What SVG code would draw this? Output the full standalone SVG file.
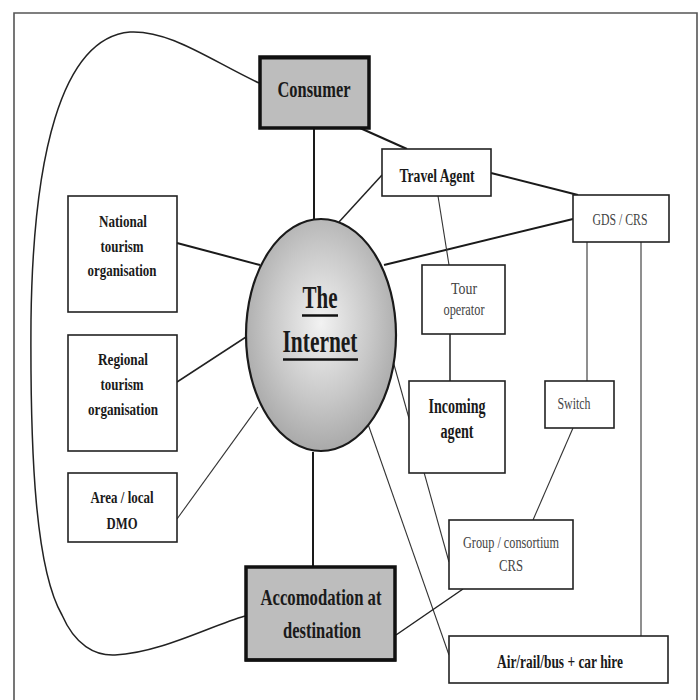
<svg xmlns="http://www.w3.org/2000/svg" width="700" height="700" viewBox="0 0 700 700">
<defs>
<radialGradient id="g" cx="0.5" cy="0.45" r="0.55">
<stop offset="0" stop-color="#f2f2f2"/>
<stop offset="0.6" stop-color="#c8c8c8"/>
<stop offset="1" stop-color="#a9a9a9"/>
</radialGradient>
<style>
.box{fill:#fff;stroke:#222;stroke-width:1.6}
.hbox{fill:#bdbdbd;stroke:#111;stroke-width:3.5}
.t{font-family:"Liberation Serif","Times New Roman",serif;font-weight:bold;fill:#1a1a1a;text-anchor:middle}
.r{font-family:"Liberation Serif","Times New Roman",serif;font-weight:normal;fill:#444;text-anchor:middle}
.thk{stroke:#1a1a1a;stroke-width:2;fill:none}
.med{stroke:#222;stroke-width:1.5;fill:none}
.thn{stroke:#333;stroke-width:1.1;fill:none}
</style>
</defs>
<rect width="700" height="700" fill="#fff"/>
<path d="M14,710 V13 H697 V710" fill="none" stroke="#555" stroke-width="1.6"/>
<g id="connectors">
<path class="med" d="M259,83 C210,60 170,30 130,32 C60,38 33,160 31,320 C30,460 36,570 62,615 C75,645 95,656 115,655 C160,653 210,626 245,616"/>
<line class="thk" x1="314" y1="128" x2="314" y2="219"/>
<line class="thk" x1="360" y1="128" x2="407" y2="149"/>
<line class="med" x1="382" y1="175" x2="339" y2="222"/>
<line class="thk" x1="491" y1="173" x2="578" y2="195"/>
<line class="thk" x1="384" y1="265" x2="573" y2="219"/>
<line class="thn" x1="438" y1="196" x2="449" y2="265"/>
<line class="med" x1="450" y1="334" x2="450" y2="381"/>
<line class="thn" x1="587" y1="242" x2="587" y2="381"/>
<line class="thn" x1="641" y1="242" x2="641" y2="636"/>
<line class="thn" x1="573" y1="428" x2="533" y2="520"/>
<line class="thk" x1="177" y1="243" x2="260" y2="265"/>
<line class="med" x1="177" y1="382" x2="246" y2="337"/>
<line class="thn" x1="177" y1="519" x2="258" y2="407"/>
<line class="thk" x1="313" y1="452" x2="313" y2="566"/>
<line class="thn" x1="393" y1="361" x2="449" y2="562"/>
<line class="thn" x1="368" y1="424" x2="449" y2="655"/>
<line class="med" x1="463" y1="589" x2="396" y2="635"/>
</g>
<g id="consumer">
<rect class="hbox" x="260" y="57" width="109" height="71"/>
<line x1="259" y1="58" x2="370" y2="58" stroke="#111" stroke-width="3"/>
<text class="t" x="314" y="97" font-size="23" textLength="73" lengthAdjust="spacingAndGlyphs">Consumer</text>
</g>
<g id="travel-agent">
<rect class="box" x="382" y="149" width="109" height="47"/>
<text class="t" x="437" y="182" font-size="18" textLength="75" lengthAdjust="spacingAndGlyphs">Travel Agent</text>
</g>
<g id="gds-crs">
<rect class="box" x="573" y="195" width="96" height="47"/>
<text class="r" x="620" y="225" font-size="16" textLength="55" lengthAdjust="spacingAndGlyphs">GDS / CRS</text>
</g>
<g id="national">
<rect class="box" x="68" y="196" width="109" height="116"/>
<text class="t" x="123" y="227" font-size="17" textLength="48" lengthAdjust="spacingAndGlyphs">National</text>
<text class="t" x="122" y="252" font-size="17" textLength="43" lengthAdjust="spacingAndGlyphs">tourism</text>
<text class="t" x="122" y="276" font-size="17" textLength="69" lengthAdjust="spacingAndGlyphs">organisation</text>
</g>
<g id="internet">
<ellipse cx="321" cy="335" rx="75" ry="116" fill="url(#g)" stroke="#1a1a1a" stroke-width="2.2"/>
<text class="t" x="320" y="308" font-size="32" textLength="35" lengthAdjust="spacingAndGlyphs">The</text>
<line x1="302" y1="315.5" x2="338" y2="315.5" stroke="#111" stroke-width="2.5"/>
<text class="t" x="320" y="352" font-size="32" textLength="75" lengthAdjust="spacingAndGlyphs">Internet</text>
<line x1="283" y1="359.5" x2="358" y2="359.5" stroke="#111" stroke-width="2.5"/>
</g>
<g id="tour-operator">
<rect class="box" x="422" y="265" width="83" height="69"/>
<text class="r" x="464" y="294" font-size="16" textLength="26" lengthAdjust="spacingAndGlyphs">Tour</text>
<text class="r" x="464" y="315" font-size="16" textLength="41" lengthAdjust="spacingAndGlyphs">operator</text>
</g>
<g id="regional">
<rect class="box" x="68" y="335" width="109" height="116"/>
<text class="t" x="123" y="365" font-size="17" textLength="50" lengthAdjust="spacingAndGlyphs">Regional</text>
<text class="t" x="122" y="390" font-size="17" textLength="43" lengthAdjust="spacingAndGlyphs">tourism</text>
<text class="t" x="123" y="415" font-size="17" textLength="70" lengthAdjust="spacingAndGlyphs">organisation</text>
</g>
<g id="incoming-agent">
<rect class="box" x="409" y="381" width="96" height="92"/>
<text class="t" x="457" y="413" font-size="20" textLength="57" lengthAdjust="spacingAndGlyphs">Incoming</text>
<text class="t" x="457" y="438" font-size="20" textLength="33" lengthAdjust="spacingAndGlyphs">agent</text>
</g>
<g id="switch">
<rect class="box" x="545" y="381" width="69" height="47"/>
<text class="r" x="574" y="409" font-size="16" textLength="33" lengthAdjust="spacingAndGlyphs">Switch</text>
</g>
<g id="area-dmo">
<rect class="box" x="68" y="473" width="109" height="69"/>
<text class="t" x="122" y="503" font-size="17" textLength="63" lengthAdjust="spacingAndGlyphs">Area / local</text>
<text class="t" x="122" y="529" font-size="17" textLength="31" lengthAdjust="spacingAndGlyphs">DMO</text>
</g>
<g id="group-crs">
<rect class="box" x="449" y="520" width="124" height="69"/>
<text class="r" x="511" y="548" font-size="16" textLength="96" lengthAdjust="spacingAndGlyphs">Group / consortium</text>
<text class="r" x="511" y="571" font-size="16" textLength="24" lengthAdjust="spacingAndGlyphs">CRS</text>
</g>
<g id="accomodation">
<rect class="hbox" x="246" y="567" width="149" height="93"/>
<line x1="245" y1="660" x2="396" y2="660" stroke="#111" stroke-width="3"/>
<text class="t" x="321" y="605" font-size="23" textLength="121" lengthAdjust="spacingAndGlyphs">Accomodation at</text>
<text class="t" x="322" y="638" font-size="23" textLength="78" lengthAdjust="spacingAndGlyphs">destination</text>
</g>
<g id="air-rail">
<rect class="box" x="449" y="636" width="219" height="47"/>
<text class="t" x="560" y="668" font-size="18" textLength="126" lengthAdjust="spacingAndGlyphs">Air/rail/bus + car hire</text>
</g>
</svg>
